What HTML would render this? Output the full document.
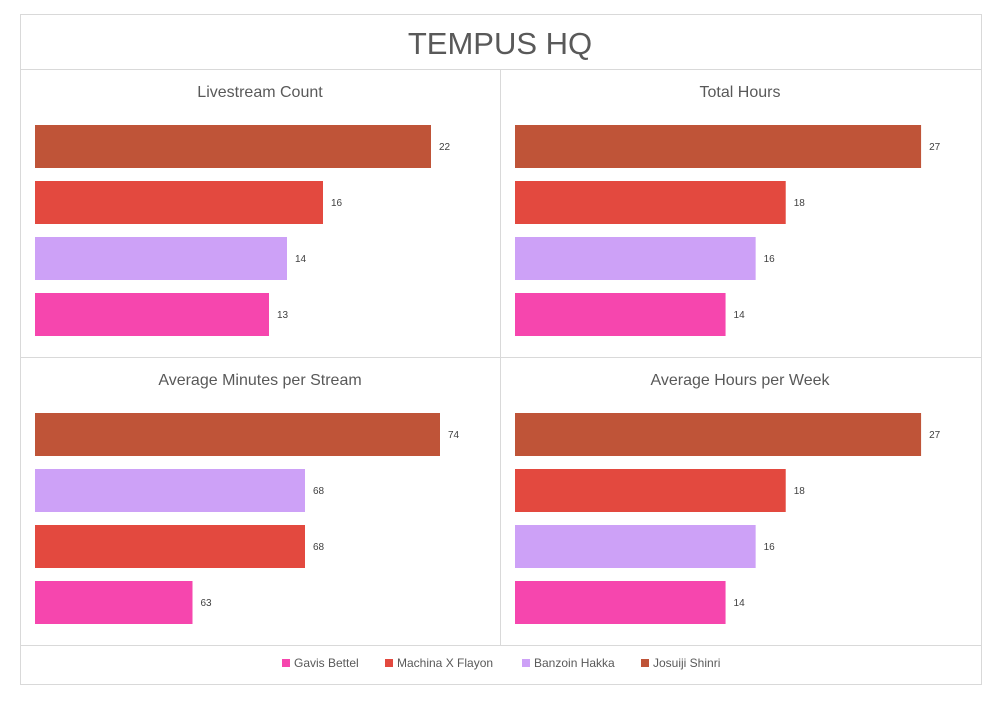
<!DOCTYPE html>
<html><head><meta charset="utf-8"><style>
body{margin:0;background:#fff;font-family:"Liberation Sans",sans-serif;}
svg{display:block}
</style></head><body>
<svg id="c" width="1000" height="701">
<rect x="20.5" y="14.5" width="961" height="670" fill="#fff" stroke="#d9d9d9"/>
<line x1="20" y1="69.5" x2="981" y2="69.5" stroke="#d9d9d9"/>
<line x1="500.5" y1="69" x2="500.5" y2="645" stroke="#d9d9d9"/>
<line x1="20" y1="357.5" x2="981" y2="357.5" stroke="#d9d9d9"/>
<line x1="20" y1="645.5" x2="981" y2="645.5" stroke="#d9d9d9"/>
<text x="500" y="54" text-anchor="middle" font-size="31" fill="#595959">TEMPUS HQ</text>
<g id="legend"></g>
</svg>
<script>
const colors={"Gavis Bettel":"#f646ae","Machina X Flayon":"#e3493f","Banzoin Hakka":"#cda1f7","Josuiji Shinri":"#bf5438"};
const legendNames=["Gavis Bettel","Machina X Flayon","Banzoin Hakka","Josuiji Shinri"];
const countCats=["Josuiji Shinri","Machina X Flayon","Banzoin Hakka","Gavis Bettel"];
const countVals=[22,16,14,13];
const hoursCats=["Josuiji Shinri","Machina X Flayon","Banzoin Hakka","Gavis Bettel"];
const hoursVals=[27,18,16,14];
const avgMinCats=["Josuiji Shinri","Banzoin Hakka","Machina X Flayon","Gavis Bettel"];
const avgMinVals=[74,68,68,63];
const weekCats=["Josuiji Shinri","Machina X Flayon","Banzoin Hakka","Gavis Bettel"];
const weekVals=[27,18,16,14];
const svg=document.getElementById('c');
const NS="http://www.w3.org/2000/svg";
function mk(tag,attrs,parent){const e=document.createElementNS(NS,tag);for(const k in attrs)e.setAttribute(k,attrs[k]);(parent||svg).appendChild(e);return e;}
function panel(name,title,x0,y0,cats,vals,min,scale){
  const g=mk('g',{});
  
  
  const t=mk('text',{x:x0+225,y:y0+28,'text-anchor':'middle','font-size':16,fill:'#595959'},g);
  t.textContent=title;
  
  
  const xs=v=>x0+(v-min)*scale;
  cats.forEach((c,i)=>{
    const y=y0+56+i*56;
    const r=mk('rect',{x:x0,y:y,width:xs(vals[i])-x0,height:43,fill:colors[c]},g);
    
    
    const l=mk('text',{x:xs(vals[i])+8,y:y+25,'font-size':10,fill:'#404040'},g);
    l.textContent=vals[i];
    
    
  });
}
panel('livestream-count-chart','Livestream Count',35,69,countCats,countVals,0,18);
panel('total-hours-chart','Total Hours',515,69,hoursCats,hoursVals,0,15.04);
panel('avg-minutes-chart','Average Minutes per Stream',35,357,avgMinCats,avgMinVals,56,22.5);
panel('avg-hours-week-chart','Average Hours per Week',515,357,weekCats,weekVals,0,15.04);
const lg=document.getElementById('legend');
const lx=[282,385,522,641];
legendNames.forEach((n,i)=>{
  const e=mk('g',{},lg);
  
  
  mk('rect',{x:lx[i],y:659,width:8,height:8,fill:colors[n]},e);
  const t=mk('text',{x:lx[i]+12,y:667,'font-size':12,fill:'#595959'},e);
  t.textContent=n;
});
</script>
</body></html>
